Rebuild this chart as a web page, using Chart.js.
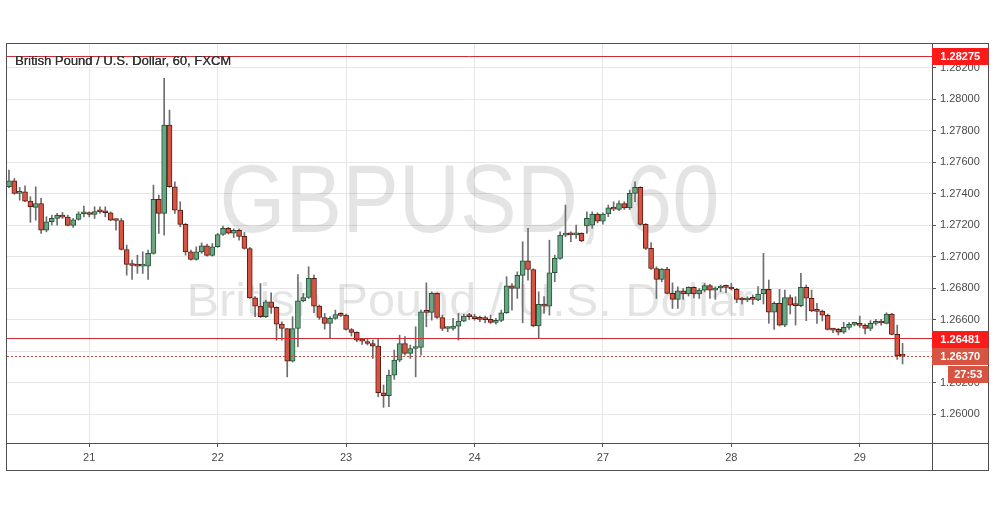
<!DOCTYPE html>
<html><head><meta charset="utf-8">
<script src="https://cdn.jsdelivr.net/npm/chart.js@4.4.1/dist/chart.umd.min.js"></script>
<style>html,body{margin:0;padding:0;background:#fff;}canvas{display:block;}</style>
</head><body>
<canvas id="c" width="995" height="507"></canvas>
<script>
// ---- data (hourly GBP/USD candles) ----
const opens = [
1.27445,1.27483,1.27403,1.27413,1.27354,1.27314,1.27339,1.27170,1.27223,1.27244,
1.27263,1.27252,1.27199,1.27238,1.27274,1.27276,1.27269,1.27288,1.27288,1.27280,
1.27233,1.27231,1.27047,1.26952,1.26943,1.26941,1.26941,1.27022,1.27365,1.27276,
1.27837,1.27445,1.27297,1.27206,1.27032,1.26984,1.27032,1.27070,1.27009,1.27064,
1.27142,1.27181,1.27151,1.27168,1.27130,1.27053,1.26740,1.26687,1.26620,1.26715,
1.26679,1.26573,1.26545,1.26338,1.26545,1.26721,1.26742,1.26863,1.26687,1.26615,
1.26577,1.26609,1.26634,1.26630,1.26539,1.26520,1.26471,1.26461,1.26450,1.26433,
1.26137,1.26118,1.26249,1.26344,1.26450,1.26387,1.26418,1.26425,1.26651,1.26647,
1.26768,1.26615,1.26545,1.26545,1.26560,1.26592,1.26624,1.26620,1.26609,1.26605,
1.26603,1.26584,1.26596,1.26645,1.26816,1.26799,1.26882,1.26975,1.26920,1.26562,
1.26698,1.26687,1.26899,1.26990,1.27138,1.27149,1.27140,1.27149,1.27197,1.27202,
1.27272,1.27227,1.27272,1.27312,1.27301,1.27339,1.27310,1.27403,1.27441,1.27206,
1.27054,1.26926,1.26857,1.26922,1.26768,1.26730,1.26785,1.26764,1.26806,1.26764,
1.26789,1.26818,1.26789,1.26802,1.26814,1.26806,1.26794,1.26730,1.26726,1.26734,
1.26726,1.26764,1.26794,1.26648,1.26705,1.26567,1.26741,1.26694,1.26690,1.26806,
1.26737,1.26656,1.26656,1.26629,1.26540,1.26540,1.26521,1.26552,1.26571,1.26574,
1.26565,1.26546,1.26578,1.26590,1.26578,1.26637,1.26508,1.26372];
const highs = [
1.27551,1.27498,1.27441,1.27451,1.27382,1.27445,1.27371,1.27255,1.27265,1.27276,
1.27282,1.27265,1.27244,1.27286,1.27322,1.27286,1.27318,1.27318,1.27318,1.27286,
1.27240,1.27244,1.27075,1.26979,1.27011,1.27032,1.27043,1.27456,1.27392,1.28133,
1.27932,1.27477,1.27350,1.27212,1.27043,1.27064,1.27089,1.27081,1.27085,1.27149,
1.27195,1.27187,1.27178,1.27176,1.27155,1.27060,1.26747,1.26831,1.26725,1.26772,
1.26683,1.26588,1.26545,1.26620,1.26888,1.26768,1.26937,1.26884,1.26694,1.26641,
1.26620,1.26662,1.26645,1.26636,1.26545,1.26524,1.26482,1.26476,1.26471,1.26482,
1.26186,1.26281,1.26408,1.26503,1.26493,1.26440,1.26556,1.26662,1.26835,1.26778,
1.26772,1.26630,1.26556,1.26609,1.26641,1.26636,1.26641,1.26636,1.26624,1.26624,
1.26630,1.26609,1.26662,1.26874,1.26831,1.26905,1.27096,1.27181,1.26924,1.26778,
1.26747,1.27106,1.27011,1.27159,1.27329,1.27159,1.27202,1.27153,1.27286,1.27286,
1.27280,1.27280,1.27329,1.27350,1.27356,1.27350,1.27424,1.27477,1.27445,1.27212,
1.27090,1.26937,1.26926,1.26933,1.26835,1.26810,1.26799,1.26810,1.26810,1.26799,
1.26831,1.26825,1.26810,1.26821,1.26821,1.26832,1.26800,1.26743,1.26747,1.26758,
1.26811,1.27022,1.26853,1.26715,1.26794,1.26789,1.26758,1.26747,1.26895,1.26821,
1.26789,1.26705,1.26662,1.26637,1.26546,1.26546,1.26584,1.26582,1.26582,1.26624,
1.26574,1.26595,1.26603,1.26603,1.26645,1.26641,1.26567,1.26451];
const lows = [
1.27440,1.27398,1.27360,1.27350,1.27219,1.27233,1.27149,1.27159,1.27202,1.27202,
1.27244,1.27197,1.27187,1.27233,1.27254,1.27254,1.27244,1.27276,1.27254,1.27229,
1.27170,1.27043,1.26884,1.26857,1.26895,1.26895,1.26857,1.27017,1.27149,1.27138,
1.27441,1.27276,1.27191,1.27011,1.26979,1.26979,1.27022,1.27005,1.27005,1.27060,
1.27136,1.27145,1.27123,1.27106,1.27049,1.26736,1.26620,1.26615,1.26615,1.26641,
1.26471,1.26471,1.26238,1.26332,1.26429,1.26715,1.26736,1.26645,1.26603,1.26541,
1.26486,1.26603,1.26620,1.26535,1.26497,1.26461,1.26444,1.26440,1.26355,1.26111,
1.26044,1.26048,1.26222,1.26334,1.26376,1.26355,1.26238,1.26376,1.26556,1.26598,
1.26609,1.26531,1.26524,1.26535,1.26471,1.26588,1.26603,1.26598,1.26588,1.26581,
1.26577,1.26573,1.26588,1.26641,1.26662,1.26736,1.26581,1.26852,1.26556,1.26482,
1.26641,1.26630,1.26842,1.26984,1.27128,1.27096,1.27117,1.27096,1.27149,1.27181,
1.27216,1.27208,1.27255,1.27293,1.27293,1.27301,1.27301,1.27350,1.27202,1.27047,
1.26920,1.26736,1.26842,1.26764,1.26672,1.26672,1.26730,1.26751,1.26740,1.26736,
1.26778,1.26736,1.26730,1.26778,1.26772,1.26789,1.26709,1.26701,1.26715,1.26698,
1.26722,1.26701,1.26578,1.26540,1.26561,1.26557,1.26637,1.26567,1.26684,1.26595,
1.26652,1.26578,1.26593,1.26535,1.26518,1.26504,1.26514,1.26540,1.26561,1.26552,
1.26510,1.26531,1.26567,1.26567,1.26574,1.26504,1.26349,1.26320];
const closes = [
1.27483,1.27403,1.27413,1.27354,1.27318,1.27339,1.27170,1.27223,1.27244,1.27263,
1.27252,1.27199,1.27235,1.27274,1.27276,1.27269,1.27288,1.27286,1.27280,1.27233,
1.27231,1.27047,1.26952,1.26945,1.26941,1.26943,1.27022,1.27365,1.27276,1.27837,
1.27445,1.27297,1.27206,1.27032,1.26984,1.27032,1.27070,1.27009,1.27064,1.27142,
1.27181,1.27151,1.27168,1.27130,1.27053,1.26740,1.26687,1.26620,1.26715,1.26679,
1.26573,1.26545,1.26338,1.26545,1.26721,1.26742,1.26863,1.26687,1.26615,1.26577,
1.26609,1.26634,1.26628,1.26539,1.26520,1.26471,1.26465,1.26450,1.26433,1.26137,
1.26118,1.26249,1.26344,1.26450,1.26387,1.26418,1.26425,1.26651,1.26647,1.26768,
1.26615,1.26545,1.26550,1.26560,1.26592,1.26624,1.26620,1.26607,1.26603,1.26601,
1.26584,1.26596,1.26645,1.26816,1.26799,1.26882,1.26975,1.26920,1.26562,1.26698,
1.26687,1.26899,1.26990,1.27138,1.27147,1.27140,1.27149,1.27102,1.27244,1.27272,
1.27227,1.27272,1.27312,1.27303,1.27339,1.27310,1.27403,1.27441,1.27206,1.27054,
1.26926,1.26857,1.26922,1.26768,1.26730,1.26785,1.26764,1.26806,1.26764,1.26789,
1.26818,1.26789,1.26802,1.26814,1.26806,1.26796,1.26730,1.26726,1.26734,1.26730,
1.26764,1.26794,1.26648,1.26705,1.26567,1.26741,1.26694,1.26690,1.26806,1.26737,
1.26656,1.26654,1.26629,1.26540,1.26535,1.26521,1.26552,1.26571,1.26574,1.26565,
1.26546,1.26578,1.26590,1.26580,1.26637,1.26508,1.26372,1.26370];
const dayTickIndex = [15, 39, 63, 87, 111, 135, 159];
const dayTickLabels = ['21', '22', '23', '24', '27', '28', '29'];
const priceTicks = [1.260, 1.262, 1.264, 1.266, 1.268, 1.270, 1.272, 1.274, 1.276, 1.278, 1.280, 1.282];
const upperLevel = 1.28275;
const lowerLevel = 1.26481;
const lastPrice = 1.26370;
const countdownText = '27:53';
const titleText = 'British Pound / U.S. Dollar, 60, FXCM';
const watermarkSymbol = 'GBPUSD, 60';
const watermarkName = 'British Pound / U.S. Dollar';

// ---- styling ----
const UP = '#6ba583', DOWN = '#d75442', UP_B = '#225437', DOWN_B = '#5b1a13', WICK = '#6e6e70';
const FONT = '"Liberation Sans", Arial, sans-serif';
const isUp = i => closes[i] >= opens[i];

const wickData = opens.map((o, i) => ({ x: i, y: [lows[i], highs[i]] }));
const bodyData = opens.map((o, i) => ({ x: i, y: [o, closes[i]] }));

const deco = {
  id: 'deco',
  beforeDatasetsDraw(chart) {
    const { ctx, chartArea: a } = chart;
    const cx = (a.left + a.right) / 2;
    ctx.save();
    ctx.beginPath(); ctx.rect(a.left, a.top, a.right - a.left, a.bottom - a.top); ctx.clip();
    ctx.fillStyle = 'rgba(0,0,0,0.105)';
    ctx.textBaseline = 'alphabetic';
    ctx.textAlign = 'left';
    ctx.font = '96px ' + FONT;
    let w = ctx.measureText(watermarkSymbol).width;
    let tw = 500;
    ctx.save(); ctx.translate(cx - tw / 2, 232); ctx.scale(tw / w, 1);
    ctx.fillText(watermarkSymbol, 0, 0); ctx.restore();
    ctx.font = '47px ' + FONT;
    w = ctx.measureText(watermarkName).width;
    tw = 566;
    ctx.save(); ctx.translate(cx - tw / 2, 316); ctx.scale(tw / w, 1);
    ctx.fillText(watermarkName, 0, 0); ctx.restore();
    ctx.restore();
  },
  afterDatasetsDraw(chart) {
    const { ctx, chartArea: a, scales: { y } } = chart;
    ctx.save();
    ctx.beginPath(); ctx.rect(a.left, a.top, a.right - a.left, a.bottom - a.top); ctx.clip();
    const hline = (v, color, dash) => {
      const py = Math.floor(y.getPixelForValue(v)) + 0.5;
      ctx.strokeStyle = color; ctx.lineWidth = 1; ctx.setLineDash(dash);
      ctx.beginPath(); ctx.moveTo(a.left, py); ctx.lineTo(a.right, py); ctx.stroke();
    };
    hline(upperLevel, '#d42a33', []);
    hline(lowerLevel, '#d42a33', []);
    hline(lastPrice, '#c0473b', [2, 2]);
    ctx.restore();
  },
  afterDraw(chart) {
    const { ctx, chartArea: a, scales: { y } } = chart;
    ctx.save();
    // title
    ctx.font = '13px ' + FONT;
    ctx.fillStyle = '#333';
    ctx.textAlign = 'left'; ctx.textBaseline = 'alphabetic';
    ctx.fillText(titleText, 15, 65);
    ctx.fillText(titleText, 15.35, 65);
    // frame
    const L = 6.5, R = 988.5, T = 43.5, B = 470.5;
    ctx.strokeStyle = '#4f4f4f'; ctx.lineWidth = 1; ctx.setLineDash([]);
    ctx.strokeRect(L, T, R - L, B - T);
    ctx.beginPath();
    ctx.moveTo(Math.round(a.right) + 0.5, T); ctx.lineTo(Math.round(a.right) + 0.5, B);
    ctx.moveTo(L, Math.round(a.bottom) + 0.5); ctx.lineTo(R, Math.round(a.bottom) + 0.5);
    ctx.stroke();
    // price boxes
    const box = (v, color, text) => {
      const py = Math.round(y.getPixelForValue(v));
      ctx.fillStyle = color;
      ctx.fillRect(Math.round(a.right), py - 8, R - Math.round(a.right), 17);
      ctx.fillStyle = '#fff';
      ctx.font = 'bold 11px ' + FONT;
      ctx.textAlign = 'center'; ctx.textBaseline = 'middle';
      ctx.fillText(text, (a.right + R) / 2, py + 1);
      return py;
    };
    box(upperLevel, '#ff1a1a', upperLevel.toFixed(5));
    box(lowerLevel, '#ff1a1a', lowerLevel.toFixed(5));
    const lp = box(lastPrice, DOWN, lastPrice.toFixed(5));
    ctx.fillStyle = DOWN;
    ctx.fillRect(948, lp + 10, R - 948, 17);
    ctx.fillStyle = '#fff';
    ctx.fillText(countdownText, (948 + R) / 2, lp + 19);
    ctx.restore();
  }
};

new Chart(document.getElementById('c'), {
  type: 'bar',
  data: {
    datasets: [
      {
        label: 'wick', data: wickData, grouped: false, barThickness: 1,
        backgroundColor: WICK, borderWidth: 0, order: 2
      },
      {
        label: 'body', data: bodyData, grouped: false, barThickness: 5, minBarLength: 2,
        backgroundColor: c => isUp(c.dataIndex) ? UP : DOWN,
        borderColor: c => isUp(c.dataIndex) ? UP_B : DOWN_B,
        borderWidth: 1, borderSkipped: false, order: 1
      }
    ]
  },
  options: {
    responsive: false, animation: false, devicePixelRatio: 1,
    layout: { padding: { left: 7, top: 43, right: 7, bottom: 37 } },
    plugins: { legend: { display: false }, tooltip: { enabled: false }, title: { display: false } },
    scales: {
      x: {
        type: 'linear', offset: false, min: -0.37, max: 172.5,
        grid: { offset: false, color: '#e6e6e6', tickColor: '#555', tickLength: 4, drawOnChartArea: true },
        border: { display: false },
        afterBuildTicks: s => { s.ticks = dayTickIndex.map(v => ({ value: v })); },
        afterFit: s => { s.height = 27; },
        ticks: {
          autoSkip: false, maxRotation: 0, padding: 4, color: '#4a4a4a',
          font: { family: FONT, size: 11 },
          callback: v => { const k = dayTickIndex.indexOf(v); return k >= 0 ? dayTickLabels[k] : ''; }
        }
      },
      y: {
        position: 'right', min: 1.25818, max: 1.28358,
        grid: { color: '#e6e6e6', tickColor: '#555', tickLength: 4 },
        border: { display: false },
        afterBuildTicks: s => { s.ticks = priceTicks.map(v => ({ value: v })); },
        afterFit: s => { s.width = 56; },
        ticks: {
          padding: 4, color: '#4a4a4a', font: { family: FONT, size: 11 },
          callback: v => Number(v).toFixed(5)
        }
      }
    }
  },
  plugins: [deco]
});
</script>
</body></html>
